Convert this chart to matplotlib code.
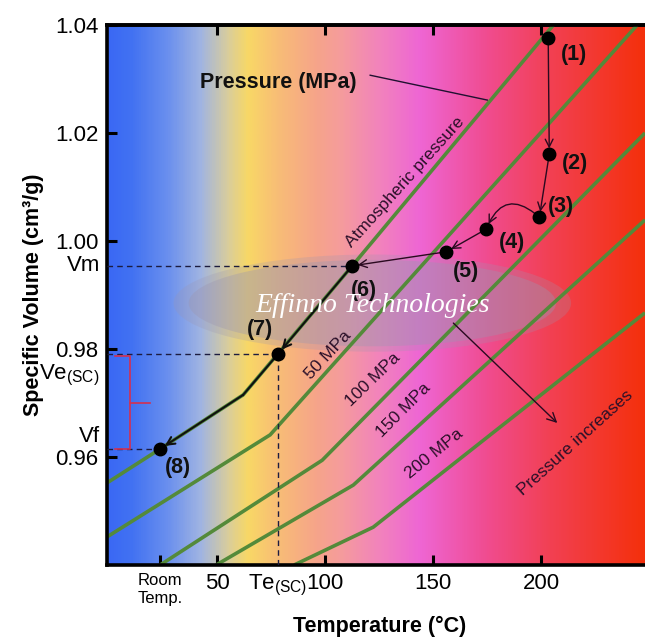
import numpy as np
import matplotlib
matplotlib.use('Agg')
import matplotlib.pyplot as plt
from matplotlib.colors import LinearSegmentedColormap
from matplotlib.patches import Ellipse

SANS = 'Liberation Sans'
SERIF = 'Liberation Serif'
plt.rcParams['font.family'] = SANS
plt.rcParams['mathtext.fontset'] = 'custom'
plt.rcParams['mathtext.rm'] = SANS

# isobars (temperature degC, specific volume cm3/g)
atm_T = [-1, 23.6, 62.0, 112.5, 205.6]
atm_V = [0.9552, 0.9615, 0.9715, 0.9954, 1.040]
p50_T = [-1, 74.5, 244.4]
p50_V = [0.9452, 0.9641, 1.040]
p100_T = [23.6, 98.6, 248]
p100_V = [0.940, 0.9594, 1.0200]
p150_T = [49.5, 113.0, 248]
p150_V = [0.940, 0.9548, 1.0039]
p200_T = [85.6, 122.2, 248]
p200_V = [0.940, 0.9470, 0.9867]
isobar_names = ['Atmospheric pressure', '50 MPa', '100 MPa', '150 MPa', '200 MPa']

# process path (1)..(8)
pt_T = [203.2, 203.7, 199.1, 174.5, 156.0, 112.5, 78.2, 23.6]
pt_V = [1.0376, 1.0161, 1.0044, 1.0022, 0.9980, 0.9954, 0.9791, 0.9615]
pt_lbl = ['(1)', '(2)', '(3)', '(4)', '(5)', '(6)', '(7)', '(8)']

x_ticks = [23.6, 50, 100, 150, 200]
x_ticklabels = ['Room\nTemp.', '50', '100', '150', '200']
y_ticks = [0.96, 0.98, 1.00, 1.02, 1.04]

# background gradient stops (temperature, colour)
bg_T = [-1, 10, 27, 42, 54.6, 63.9, 77.8, 96, 107, 125, 144, 175, 205, 248]
bg_C = ['#3a68f4', '#4272f2', '#6b90ee', '#a0b4e2', '#d9cd9c', '#f8d866', '#f8bd76',
        '#f6a48a', '#f59c9c', '#f283bc', '#ee66d4', '#f04c90', '#f24052', '#f4300c']

GREEN = '#548a3a'
DARK = '#2b1029'

fig = plt.figure(figsize=(6.45, 6.43), dpi=100)
ax = fig.add_axes([107/645, 1 - 565/643, 538/645, 540/643])
xmin, xmax, ymin, ymax = -1, 248, 0.94, 1.04

pos = [(t - xmin) / (xmax - xmin) for t in bg_T]
cmap = LinearSegmentedColormap.from_list('bg', list(zip(pos, bg_C)))
ax.imshow(np.linspace(0, 1, 600)[None, :], extent=[xmin, xmax, ymin, ymax],
          aspect='auto', cmap=cmap, zorder=0)

# watermark ellipse (soft edge from two layers)
ax.add_patch(Ellipse((121.8, 0.9885), 184, 0.0180, facecolor='#9c96b0',
                     edgecolor='none', alpha=0.25, zorder=1))
ax.add_patch(Ellipse((121.8, 0.9885), 170, 0.0160, facecolor='#9c96b0',
                     edgecolor='none', alpha=0.35, zorder=1))

for T, V in [(atm_T, atm_V), (p50_T, p50_V), (p100_T, p100_V),
             (p150_T, p150_V), (p200_T, p200_V)]:
    ax.plot(T, V, color=GREEN, lw=2.6, zorder=2, solid_capstyle='butt')

# dashed guides
dash = dict(color='#1c1c40', lw=1, ls=(0, (4, 3)), zorder=3)
for i in (5, 6, 7):
    ax.plot([xmin, pt_T[i]], [pt_V[i], pt_V[i]], **dash)
ax.plot([pt_T[6], pt_T[6]], [ymin, pt_V[6]], **dash)

# black part of the path along atmospheric isobar
ax.plot([pt_T[6], atm_T[2]], [pt_V[6], atm_V[2]], color='#101010', lw=1.5, zorder=4)
ap_blk = dict(arrowstyle='->', color='#101010', lw=1.5, shrinkA=0, shrinkB=4, mutation_scale=14)
ax.annotate('', xy=(pt_T[6], pt_V[6]), xytext=(pt_T[5], pt_V[5]), arrowprops=ap_blk, zorder=4)
ax.annotate('', xy=(pt_T[7], pt_V[7]), xytext=(atm_T[2], atm_V[2]), arrowprops=ap_blk, zorder=4)

ap = dict(arrowstyle='->', color='#2a0a20', lw=1.0, shrinkA=4, shrinkB=4, mutation_scale=14)
for a, b in [(0, 1), (1, 2), (3, 4), (4, 5)]:
    ax.annotate('', xy=(pt_T[b], pt_V[b]), xytext=(pt_T[a], pt_V[a]), arrowprops=ap, zorder=4)
ax.annotate('', xy=(pt_T[3], pt_V[3]), xytext=(pt_T[2], pt_V[2]),
            arrowprops=dict(ap, connectionstyle='arc3,rad=0.7'), zorder=4)

ax.plot(pt_T, pt_V, 'o', color='black', ms=9, zorder=5, ls='none')

offs = [(26, -17), (26, -9), (22, 11), (26, -13), (20, -20), (12, -25), (-18, 24), (18, -19)]
for T, V, s, o in zip(pt_T, pt_V, pt_lbl, offs):
    ax.annotate(s, (T, V), xytext=o, textcoords='offset pixels', ha='center', va='center',
                fontsize=15.5, fontweight='bold', color='#111111', zorder=6)

# red bracket between Ve and Vf
red = '#d43050'
ax.plot([2.8, 9.7, 9.7, 2.8], [pt_V[6] - 0.0004, pt_V[6] - 0.0004, pt_V[7], pt_V[7]],
        color=red, lw=1.2, zorder=3)
ax.plot([9.7, 19], [0.970, 0.970], color=red, lw=1.2, zorder=3)

# text annotations
ax.text(78.2, 1.0294, 'Pressure (MPa)', fontsize=15.5, fontweight='bold', ha='center',
        va='center', color='#111111', zorder=6)
ax.plot([120.8, 175], [1.0307, 1.0261], color='#201030', lw=1, zorder=6)
lbl_pos = [(137, 1.0109, 48), (101.4, 0.9789, 47), (122.2, 0.9743, 44),
           (136.1, 0.9687, 45), (150.5, 0.9607, 39)]
for s, (x, y, r) in zip(isobar_names, lbl_pos):
    ax.text(x, y, s, rotation=r, fontsize=12.5, color=DARK,
            ha='center', va='center', rotation_mode='anchor', zorder=6)
ax.text(215.7, 0.9626, 'Pressure increases', rotation=42, fontsize=12.5,
        color=DARK, ha='center', va='center', rotation_mode='anchor', zorder=6)
ax.annotate('', xy=(207.4, 0.9663), xytext=(159.3, 0.9848),
            arrowprops=dict(arrowstyle='->', color='#2a0a20', lw=1, mutation_scale=16,
                            shrinkA=0, shrinkB=0), zorder=6)

ax.text(121.8, 0.9880, 'Effinno Technologies', fontsize=20, family=SERIF, style='italic',
        color='white', ha='center', va='center', zorder=6)

# axes styling
ax.set_xlim(xmin, xmax)
ax.set_ylim(ymin, ymax)
ax.set_xticks(x_ticks, labels=x_ticklabels)
ax.set_xticks([pt_T[6]], labels=[r'Te$_{\mathregular{(SC)}}$'], minor=True)
ax.set_yticks(y_ticks, labels=['%.2f' % v for v in y_ticks])
ax.tick_params(which='major', direction='in', length=7, width=2.2, labelsize=16, pad=6)
ax.tick_params(which='minor', length=0, labelsize=16, pad=6)
ax.get_xticklabels()[0].set_fontsize(12)
for sp in ('left', 'bottom', 'top'):
    ax.spines[sp].set_linewidth(2.6)
ax.spines['right'].set_visible(False)

top = ax.secondary_xaxis('top')
top.set_xticks([50, 100, 150, 200], labels=[])
top.tick_params(direction='in', length=7, width=2.2)
top.spines['top'].set_linewidth(2.6)

# extra y labels
for V, s, dy in [(pt_V[5], 'Vm', 0), (pt_V[6], r'Ve$_{\mathregular{(SC)}}$', -22), (pt_V[7], 'Vf', 12)]:
    ax.annotate(s, (0, V), xycoords=('axes fraction', 'data'), xytext=(-7, dy),
                textcoords='offset pixels', ha='right', va='center', fontsize=16)

ax.set_xlabel('Temperature (°C)', fontsize=15.5, fontweight='bold')
ax.set_ylabel('Specific Volume (cm³/g)', fontsize=15.5, fontweight='bold')
ax.xaxis.set_label_coords(0.507, -0.095)
ax.yaxis.set_label_coords(-0.118, 0.50)

fig.savefig('out.png', dpi=100)
